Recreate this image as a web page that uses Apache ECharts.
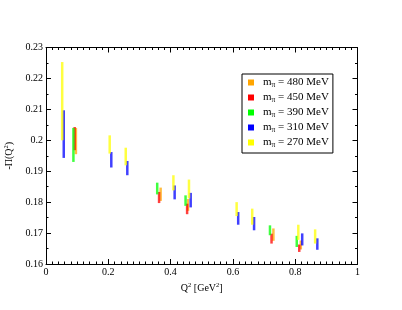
<!DOCTYPE html>
<html><head><meta charset="utf-8">
<script src="https://cdn.jsdelivr.net/npm/echarts@6/dist/echarts.min.js"></script>
<style>html,body{margin:0;padding:0;background:#fff}#c{width:402px;height:310px}</style>
</head><body><div id="c"></div>
<script>
// [Q2, low, high]
const s480 = [[0.096,0.1955,0.2040],[0.368,0.1804,0.1847],[0.456,0.1772,0.1810],[0.730,0.1675,0.1715],[0.818,0.1647,0.1676]];
const s450 = [[0.092,0.1968,0.2043],[0.363,0.1797,0.1833],[0.453,0.1761,0.1795],[0.724,0.1666,0.1698],[0.813,0.1639,0.1663]];
const s390 = [[0.088,0.1930,0.2040],[0.357,0.1825,0.1863],[0.448,0.1788,0.1822],[0.719,0.1693,0.1725],[0.805,0.1655,0.1691]];
const s310 = [[0.057,0.1943,0.2097],[0.2096,0.1912,0.1962],[0.261,0.1887,0.1933],[0.413,0.1809,0.1854],[0.4645,0.1783,0.1830],[0.617,0.1727,0.1768],[0.668,0.1709,0.1752],[0.8225,0.1660,0.1699],[0.871,0.1646,0.1683]];
const s270 = [[0.052,0.2000,0.2253],[0.2045,0.1957,0.2016],[0.256,0.1919,0.1976],[0.409,0.1838,0.1887],[0.459,0.1812,0.1873],[0.612,0.1755,0.1800],[0.662,0.1727,0.1779],[0.810,0.1678,0.1727],[0.864,0.1666,0.1712]];
const seriesNames = ['480','450','390','310','270'];
const seriesData = [s480,s450,s390,s310,s270];
const seriesColors = ['#ffa500','#ff0000','#00ff00','#0000ff','#ffff00'];
const xTicks = {min:0,max:1,interval:0.2};
const yTicks = {min:0.16,max:0.23,interval:0.01};

const font = 'Liberation Serif';
const chart = echarts.init(document.getElementById('c'));
function renderItem(params, api){
  const x = api.value(0), lo = api.value(1), hi = api.value(2);
  const p1 = api.coord([x, hi]), p2 = api.coord([x, lo]);
  return {type:'rect', shape:{x:p1[0]-1.25, y:p1[1], width:2.5, height:p2[1]-p1[1]},
    style:{fill:api.visual('color'), opacity:0.75}};
}
const axisCommon = {
  axisLine:{show:true,onZero:false,lineStyle:{color:'#000',width:1}},
  splitLine:{show:false},
  axisTick:{show:true,inside:true,length:5,lineStyle:{color:'#000'}},
};
const minorX = {minorTick:{show:true,splitNumber:10,length:2.5,lineStyle:{color:'#000'}}};
const minorY = {minorTick:{show:true,splitNumber:2,length:2.5,lineStyle:{color:'#000'}}};
const option = {
  animation:false,
  grid:{left:46,right:44.5,top:47.5,bottom:46,outerBoundsMode:'none',containLabel:false},
  legend:{
    orient:'vertical', left:242, top:74,
    padding:[3,4,4,6], itemGap:3, itemWidth:6, itemHeight:6, icon:'rect',
    borderColor:'#000', borderWidth:1, backgroundColor:'#fff',
    data:seriesNames,
    formatter:function(n){return '{f|m}{s|π}{m| = '+n+' MeV}';},
    textStyle:{fontFamily:font,fontSize:11,color:'#000',
      rich:{f:{fontFamily:font,fontSize:11,color:'#000',lineHeight:13,padding:[0,0,0,4]},
            m:{fontFamily:font,fontSize:11,color:'#000',lineHeight:13},
            s:{fontFamily:font,fontSize:7.5,color:'#000',verticalAlign:'bottom',lineHeight:13,padding:[4,0,0,0]}}}
  },
  xAxis:[
    Object.assign({type:'value',position:'bottom',min:xTicks.min,max:xTicks.max,interval:xTicks.interval,
      axisLabel:{color:'#000',fontFamily:font,fontSize:10,margin:3},
      name:'{a|Q}{s|2}{a| [GeV}{s|2}{a|]}', nameLocation:'middle', nameGap:18,
      nameTextStyle:{rich:{a:{fontFamily:font,fontSize:10,color:'#000'},s:{fontFamily:font,fontSize:6.5,color:'#000',verticalAlign:'top',padding:[0,0,6,0]}}},
    }, axisCommon, minorX),
    Object.assign({type:'value',position:'top',min:xTicks.min,max:xTicks.max,interval:xTicks.interval,
      axisLabel:{show:false}}, axisCommon, minorX)
  ],
  yAxis:[
    Object.assign({type:'value',position:'left',min:yTicks.min,max:yTicks.max,interval:yTicks.interval,
      axisLabel:{color:'#000',fontFamily:font,fontSize:10,margin:3},
      name:'{a|-Π(Q}{s|2}{a|)}', nameLocation:'middle', nameGap:28, nameRotate:90,
      nameTextStyle:{rich:{a:{fontFamily:font,fontSize:10,color:'#000'},s:{fontFamily:font,fontSize:6.5,color:'#000',verticalAlign:'top',padding:[0,0,6,0]}}},
    }, axisCommon, minorY),
    Object.assign({type:'value',position:'right',min:yTicks.min,max:yTicks.max,interval:yTicks.interval,
      axisLabel:{show:false}}, axisCommon, minorY)
  ],
  series: seriesNames.map((n,i)=>({
    name:n, type:'custom', renderItem:renderItem, data:seriesData[i],
    itemStyle:{color:seriesColors[i]}, encode:{x:0,y:[1,2]}, clip:false
  }))
};
chart.setOption(option);
</script></body></html>
